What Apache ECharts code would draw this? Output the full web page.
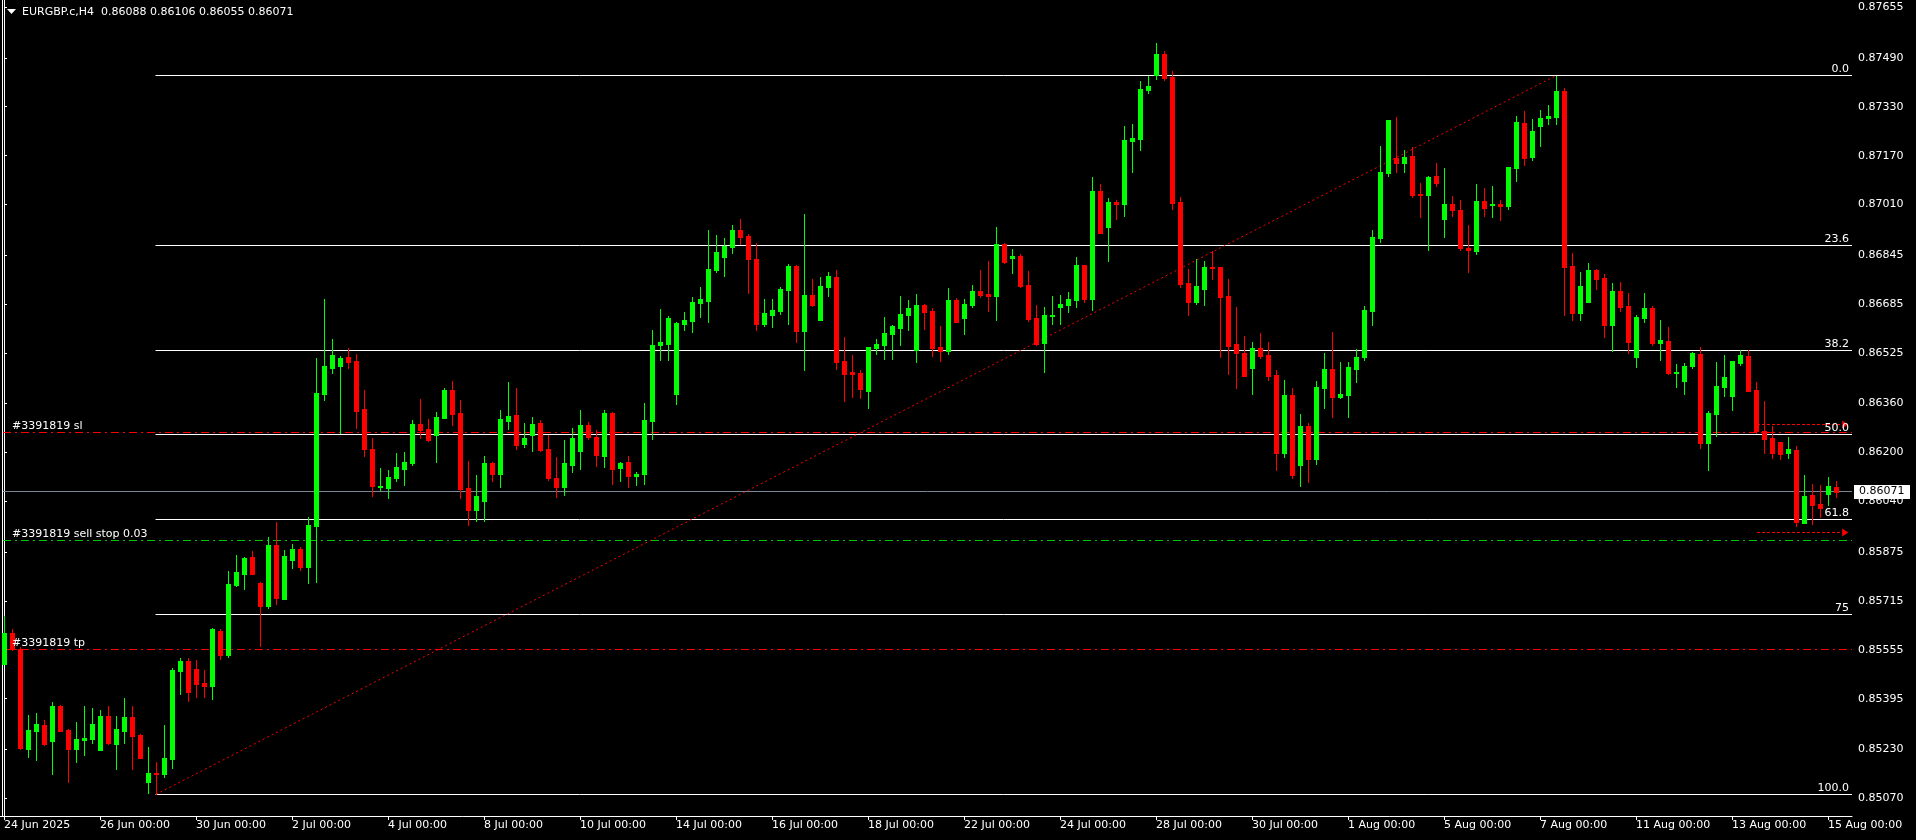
<!DOCTYPE html>
<html><head><meta charset="utf-8">
<script src="https://cdn.jsdelivr.net/npm/echarts@6/dist/echarts.min.js"></script>
<style>html,body{margin:0;padding:0;background:#000;}#c{width:1916px;height:840px;}</style>
</head><body><div id="c"></div><script>
const symbolName = 'EURGBP.c,H4';
const open = [
0.85508,0.85610,0.85557,0.85230,0.85289,0.85309,0.85257,0.85371,0.85292,0.85230,
0.85260,0.85263,0.85227,0.85338,0.85247,0.85289,0.85335,0.85276,0.85123,0.85152,
0.85149,0.85198,0.85485,0.85518,0.85492,0.85446,0.85436,0.85616,0.85538,0.85767,
0.85803,0.85858,0.85773,0.85698,0.85897,0.85721,0.85848,0.85884,0.85825,0.85959,
0.86391,0.86476,0.86483,0.86512,0.86499,0.86342,0.86211,0.86087,0.86084,0.86116,
0.86146,0.86165,0.86293,0.86277,0.86257,0.86312,0.86404,0.86329,0.86084,0.86012,
0.86041,0.86165,0.86129,0.86303,0.86322,0.86227,0.86257,0.86296,0.86211,0.86116,
0.86087,0.86159,0.86205,0.86290,0.86250,0.86188,0.86329,0.86149,0.86169,0.86123,
0.86129,0.86303,0.86551,0.86554,0.86391,0.86620,0.86630,0.86688,0.86695,0.86796,
0.86839,0.86871,0.86927,0.86907,0.86832,0.86620,0.86649,0.86662,0.86731,0.86809,
0.86597,0.86715,0.86633,0.86741,0.86773,0.86499,0.86463,0.86460,0.86401,0.86541,
0.86551,0.86587,0.86607,0.86649,0.86535,0.86682,0.86662,0.86545,0.86531,0.86698,
0.86639,0.86682,0.86728,0.86718,0.86711,0.86881,0.86836,0.86842,0.86747,0.86639,
0.86558,0.86646,0.86675,0.86682,0.86698,0.86813,0.86702,0.87055,0.86937,0.87019,
0.87012,0.87218,0.87225,0.87385,0.87434,0.87502,0.87427,0.87019,0.86754,0.86692,
0.86734,0.86806,0.86806,0.86711,0.86554,0.86525,0.86476,0.86541,0.86518,0.86453,
0.86198,0.86388,0.86159,0.86286,0.86179,0.86411,0.86473,0.86381,0.86388,0.86473,
0.86512,0.86662,0.86901,0.87113,0.87162,0.87146,0.87169,0.87045,0.87041,0.87104,
0.86963,0.87012,0.86992,0.86868,0.86858,0.87022,0.87009,0.87012,0.87006,0.87130,
0.87277,0.87166,0.87267,0.87293,0.87296,0.87381,0.86809,0.86656,0.86692,0.86796,
0.86770,0.86616,0.86728,0.86679,0.86512,0.86639,0.86672,0.86558,0.86564,0.86460,
0.86433,0.86483,0.86522,0.86231,0.86326,0.86414,0.86384,0.86492,0.86515,0.86404,
0.86270,0.86247,0.86234,0.86198,0.86208,0.85969,0.86061,0.86031,0.86064,0.86088];
const high = [
0.85665,0.85623,0.85564,0.85342,0.85348,0.85325,0.85384,0.85374,0.85296,0.85319,
0.85371,0.85364,0.85358,0.85371,0.85338,0.85397,0.85371,0.85279,0.85237,0.85188,
0.85309,0.85495,0.85528,0.85528,0.85521,0.85489,0.85626,0.85623,0.85812,0.85865,
0.85858,0.85878,0.85776,0.85923,0.85972,0.85881,0.85900,0.85891,0.85989,0.86509,
0.86702,0.86571,0.86515,0.86541,0.86522,0.86404,0.86247,0.86149,0.86143,0.86198,
0.86201,0.86306,0.86375,0.86309,0.86332,0.86411,0.86433,0.86371,0.86172,0.86126,
0.86188,0.86169,0.86339,0.86430,0.86411,0.86296,0.86316,0.86306,0.86257,0.86185,
0.86241,0.86280,0.86339,0.86299,0.86273,0.86339,0.86332,0.86169,0.86188,0.86136,
0.86362,0.86600,0.86669,0.86646,0.86626,0.86659,0.86708,0.86741,0.86927,0.86911,
0.86901,0.86943,0.86963,0.86914,0.86885,0.86702,0.86702,0.86741,0.86816,0.86813,
0.86979,0.86767,0.86773,0.86790,0.86796,0.86577,0.86518,0.86469,0.86545,0.86571,
0.86643,0.86616,0.86711,0.86698,0.86718,0.86685,0.86672,0.86613,0.86737,0.86705,
0.86702,0.86747,0.86796,0.86826,0.86937,0.86885,0.86865,0.86849,0.86793,0.86682,
0.86675,0.86711,0.86715,0.86724,0.86839,0.86813,0.87100,0.87077,0.87032,0.87025,
0.87267,0.87274,0.87414,0.87431,0.87538,0.87512,0.87447,0.87035,0.86800,0.86832,
0.86826,0.86858,0.86806,0.86767,0.86675,0.86581,0.86561,0.86590,0.86561,0.86469,
0.86437,0.86411,0.86326,0.86296,0.86433,0.86525,0.86594,0.86496,0.86496,0.86538,
0.86679,0.86927,0.87202,0.87287,0.87296,0.87189,0.87198,0.87081,0.87104,0.87146,
0.87130,0.87038,0.87025,0.86943,0.87077,0.87064,0.87071,0.87025,0.87133,0.87300,
0.87316,0.87290,0.87319,0.87336,0.87432,0.87391,0.86852,0.86790,0.86819,0.86800,
0.86783,0.86754,0.86757,0.86721,0.86649,0.86721,0.86679,0.86633,0.86610,0.86489,
0.86492,0.86528,0.86545,0.86335,0.86496,0.86518,0.86499,0.86535,0.86535,0.86430,
0.86368,0.86286,0.86234,0.86250,0.86221,0.86126,0.86097,0.86093,0.86120,0.86106];
const low = [
0.85508,0.85554,0.85230,0.85204,0.85195,0.85243,0.85149,0.85289,0.85123,0.85188,
0.85211,0.85250,0.85227,0.85247,0.85165,0.85250,0.85165,0.85201,0.85087,0.85082,
0.85139,0.85168,0.85410,0.85387,0.85400,0.85400,0.85394,0.85525,0.85531,0.85763,
0.85754,0.85803,0.85567,0.85691,0.85704,0.85721,0.85822,0.85816,0.85773,0.85776,
0.86371,0.86460,0.86263,0.86476,0.86280,0.86188,0.86058,0.86077,0.86051,0.86107,
0.86093,0.86159,0.86247,0.86237,0.86169,0.86312,0.86290,0.86051,0.85963,0.85976,
0.85976,0.86107,0.86087,0.86277,0.86211,0.86218,0.86205,0.86205,0.86110,0.86054,
0.86061,0.86136,0.86146,0.86244,0.86156,0.86152,0.86097,0.86107,0.86087,0.86093,
0.86097,0.86244,0.86502,0.86502,0.86358,0.86600,0.86594,0.86643,0.86626,0.86790,
0.86777,0.86852,0.86881,0.86721,0.86600,0.86613,0.86610,0.86652,0.86620,0.86561,
0.86469,0.86679,0.86633,0.86711,0.86473,0.86368,0.86381,0.86378,0.86345,0.86522,
0.86505,0.86505,0.86551,0.86600,0.86496,0.86603,0.86515,0.86499,0.86522,0.86626,
0.86587,0.86675,0.86708,0.86662,0.86633,0.86819,0.86787,0.86741,0.86630,0.86551,
0.86463,0.86620,0.86620,0.86659,0.86675,0.86692,0.86666,0.86917,0.86826,0.86963,
0.86973,0.87117,0.87189,0.87375,0.87421,0.87417,0.86996,0.86741,0.86649,0.86685,
0.86682,0.86767,0.86512,0.86456,0.86411,0.86450,0.86391,0.86509,0.86437,0.86143,
0.86185,0.86116,0.86090,0.86103,0.86162,0.86345,0.86316,0.86378,0.86316,0.86430,
0.86502,0.86616,0.86888,0.87104,0.87117,0.87117,0.87035,0.86970,0.86862,0.87071,
0.86904,0.86973,0.86862,0.86790,0.86849,0.86973,0.86970,0.86960,0.86996,0.87087,
0.87140,0.87156,0.87202,0.87274,0.87274,0.86649,0.86633,0.86633,0.86692,0.86734,
0.86577,0.86531,0.86662,0.86525,0.86479,0.86626,0.86551,0.86502,0.86456,0.86414,
0.86391,0.86476,0.86214,0.86143,0.86254,0.86384,0.86339,0.86486,0.86401,0.86263,
0.86198,0.86182,0.86179,0.86182,0.85959,0.85969,0.85966,0.85989,0.86028,0.86055];
const close = [
0.85610,0.85557,0.85234,0.85292,0.85312,0.85247,0.85371,0.85289,0.85230,0.85263,
0.85266,0.85312,0.85338,0.85250,0.85296,0.85335,0.85273,0.85201,0.85152,0.85149,
0.85201,0.85489,0.85518,0.85417,0.85443,0.85436,0.85623,0.85538,0.85770,0.85809,
0.85855,0.85803,0.85698,0.85897,0.85724,0.85861,0.85884,0.85825,0.85963,0.86394,
0.86483,0.86518,0.86509,0.86496,0.86335,0.86211,0.86090,0.86090,0.86120,0.86152,
0.86169,0.86293,0.86273,0.86240,0.86316,0.86404,0.86326,0.86080,0.86012,0.86058,
0.86165,0.86129,0.86309,0.86319,0.86224,0.86247,0.86293,0.86208,0.86116,0.86087,
0.86165,0.86247,0.86290,0.86250,0.86192,0.86329,0.86146,0.86165,0.86123,0.86129,
0.86306,0.86551,0.86561,0.86639,0.86623,0.86633,0.86692,0.86702,0.86800,0.86855,
0.86875,0.86927,0.86904,0.86832,0.86620,0.86656,0.86666,0.86734,0.86809,0.86597,
0.86715,0.86682,0.86744,0.86777,0.86496,0.86456,0.86456,0.86407,0.86545,0.86554,
0.86590,0.86613,0.86652,0.86672,0.86682,0.86659,0.86541,0.86531,0.86698,0.86626,
0.86685,0.86728,0.86715,0.86711,0.86881,0.86823,0.86842,0.86744,0.86636,0.86554,
0.86649,0.86649,0.86685,0.86702,0.86813,0.86702,0.87055,0.86917,0.87019,0.87012,
0.87221,0.87228,0.87388,0.87398,0.87502,0.87424,0.87015,0.86750,0.86692,0.86744,
0.86806,0.86803,0.86708,0.86548,0.86525,0.86450,0.86541,0.86515,0.86450,0.86198,
0.86388,0.86126,0.86286,0.86179,0.86414,0.86473,0.86381,0.86391,0.86479,0.86512,
0.86666,0.86904,0.87117,0.87287,0.87146,0.87166,0.87041,0.87041,0.87100,0.87081,
0.87012,0.86992,0.86868,0.86862,0.87022,0.86999,0.87012,0.87006,0.87133,0.87280,
0.87162,0.87251,0.87293,0.87300,0.87381,0.86806,0.86656,0.86744,0.86796,0.86767,
0.86616,0.86728,0.86675,0.86561,0.86643,0.86672,0.86558,0.86567,0.86460,0.86463,
0.86483,0.86525,0.86231,0.86329,0.86417,0.86447,0.86499,0.86518,0.86401,0.86270,
0.86244,0.86198,0.86195,0.86211,0.85972,0.86058,0.86028,0.86018,0.86090,0.86071];

const xTickIndex = [0,12,24,36,48,60,72,84,96,108,120,132,144,156,168,180,192,204,216,228];
const xTickLabels = ['24 Jun 2025','26 Jun 00:00','30 Jun 00:00','2 Jul 00:00','4 Jul 00:00','8 Jul 00:00',
 '10 Jul 00:00','14 Jul 00:00','16 Jul 00:00','18 Jul 00:00','22 Jul 00:00','24 Jul 00:00','28 Jul 00:00',
 '30 Jul 00:00','1 Aug 00:00','5 Aug 00:00','7 Aug 00:00','11 Aug 00:00','13 Aug 00:00','15 Aug 00:00'];
const yTickValues = [0.87655,0.87490,0.87330,0.87170,0.87010,0.86845,0.86685,0.86525,0.86360,
 0.86200,0.86040,0.85875,0.85715,0.85555,0.85395,0.85230,0.85070];

const fibHigh = 0.87432, fibLow = 0.85082;
const fibRatios = [0, 23.6, 38.2, 50, 61.8, 75, 100];
const fibLabels = ['0.0','23.6','38.2','50.0','61.8','75','100.0'];
const fibStartIndex = 18.875;
const trendStartIndex = 19, trendEndIndex = 194;
const orderPrices = [0.86266, 0.85913, 0.85556];
const orderLabels = ['#3391819 sl', '#3391819 sell stop 0.03', '#3391819 tp'];
const orderColors = ['#ff0000', '#00c800', '#ff0000'];
const arrowPrices = [0.86292, 0.85939];
const arrowStartIndex = 219.1, arrowEndIndex = 230.4;

const yMin = 0.850114, yMax = 0.876789;
const xMin = -0.5, xMax = 231;
const FONT = 'DejaVu Sans';

const chart = echarts.init(document.getElementById('c'), null, {renderer: 'canvas'});
const candleData = open.map((o, i) => [i, o, close[i], low[i], high[i]]);

function renderCandle(params, api) {
  const i = api.value(0), o = api.value(1), c = api.value(2), l = api.value(3), h = api.value(4);
  const po = api.coord([i, o]), pc = api.coord([i, c]), pl = api.coord([i, l]), ph = api.coord([i, h]);
  const x = Math.round(po[0]);
  const col = c >= o ? '#00ff00' : '#ff0000';
  const yTop = Math.round(Math.min(po[1], pc[1]));
  const yBot = Math.round(Math.max(po[1], pc[1]));
  const yh = Math.round(ph[1]), yl = Math.round(pl[1]);
  return {
    type: 'group',
    children: [
      {type: 'rect', shape: {x: x, y: yh, width: 1, height: Math.max(1, yl - yh + 1)}, style: {fill: col}},
      {type: 'rect', shape: {x: x - 2, y: yTop, width: 5, height: Math.max(1, yBot - yTop + 1)}, style: {fill: col}}
    ]
  };
}

const option = {
  backgroundColor: '#000000',
  animation: false,
  grid: {left: 0, right: 64, top: 0, bottom: 24, containLabel: false},
  xAxis: {
    type: 'value', min: xMin, max: xMax,
    splitLine: {show: false},
    axisLine: {show: true, lineStyle: {color: '#ffffff', width: 1}},
    axisTick: {show: true, customValues: xTickIndex, length: 4, lineStyle: {color: '#ffffff'}},
    axisLabel: {customValues: xTickIndex, formatter: v => xTickLabels[xTickIndex.indexOf(v)],
      color: '#ffffff', fontFamily: FONT, fontSize: 11, align: 'left', margin: 4}
  },
  yAxis: {
    type: 'value', position: 'right', min: yMin, max: yMax, scale: true,
    splitLine: {show: false},
    axisLine: {show: true, lineStyle: {color: '#ffffff', width: 1}},
    axisTick: {show: true, customValues: yTickValues, length: 3, lineStyle: {color: '#ffffff'}},
    axisLabel: {customValues: yTickValues, formatter: v => v.toFixed(5),
      color: '#ffffff', fontFamily: FONT, fontSize: 11, margin: 6}
  },
  series: [
    {
      type: 'line', z: 1, silent: true, symbol: 'none',
      data: [[trendStartIndex, fibLow], [trendEndIndex, fibHigh]],
      lineStyle: {color: '#ff0000', width: 1, type: [2, 3]}
    },
    {
      type: 'custom', z: 3, silent: true,
      renderItem: renderCandle,
      encode: {x: 0, y: [1, 2, 3, 4]},
      data: candleData
    }
  ]
};
chart.setOption(option);

const px = (x, y) => chart.convertToPixel({xAxisIndex: 0, yAxisIndex: 0}, [x, y]);
const crisp = v => Math.round(v - 0.5) + 0.5;
const right = px(xMax, yMin)[0];
const bottom = px(xMin, yMin)[1];
const els = [];
function hline(x1, x2, price, stroke, dash, z) {
  const y = crisp(px(0, price)[1]);
  els.push({type: 'line', z: z || 1, silent: true, shape: {x1: x1, y1: y, x2: x2, y2: y},
    style: {stroke: stroke, lineWidth: 1, lineDash: dash || null}});
  return y;
}
// left border
els.push({type: 'line', z: 1, silent: true, shape: {x1: 2.5, y1: 0, x2: 2.5, y2: bottom}, style: {stroke: '#ffffff', lineWidth: 1}});
// current price line
const lastIdx = close.length - 1;
const curY = hline(3, right, close[lastIdx], '#778899', null, 1);
// fib lines
const fibX = px(fibStartIndex, fibLow)[0];
fibRatios.forEach((r, k) => {
  const p = fibHigh - (fibHigh - fibLow) * r / 100;
  const y = hline(Math.round(fibX) + 0.5, right, p, '#ffffff', null, 1);
  els.push({type: 'text', z: 5, silent: true, x: right - 3, y: y - 1,
    style: {text: fibLabels[k], fill: '#ffffff', font: '11px "' + FONT + '"', align: 'right', verticalAlign: 'bottom'}});
});
// order lines
orderPrices.forEach((p, k) => {
  const y = hline(3, right, p, orderColors[k], [8, 4, 2, 4], 1);
  els.push({type: 'text', z: 5, silent: true, x: 12, y: y - 1,
    style: {text: orderLabels[k], fill: '#ffffff', font: '11px "' + FONT + '"', align: 'left', verticalAlign: 'bottom'}});
});
// arrow markers
arrowPrices.forEach(p => {
  const x1 = px(arrowStartIndex, p)[0], x2 = px(arrowEndIndex, p)[0];
  const y = hline(Math.round(x1), x2 - 5, p, '#ff0000', [3, 2], 4);
  els.push({type: 'polygon', z: 4, silent: true, shape: {points: [[x2 - 5, y - 4], [x2 + 1, y], [x2 - 5, y + 4]]},
    style: {fill: '#ff0000'}});
});
// current price tag
els.push({type: 'rect', z: 100, silent: true, shape: {x: right + 2, y: Math.round(curY) - 7, width: 56, height: 14}, style: {fill: '#ffffff'}});
els.push({type: 'text', z: 101, silent: true, x: right + 7, y: curY,
  style: {text: close[lastIdx].toFixed(5), fill: '#000000', font: '11px "' + FONT + '"', align: 'left', verticalAlign: 'middle'}});
// title
els.push({type: 'polygon', z: 100, silent: true, shape: {points: [[7, 9], [16, 9], [11.5, 14]]}, style: {fill: '#ffffff'}});
els.push({type: 'text', z: 100, silent: true, x: 22, y: 12,
  style: {text: symbolName + '  ' + [open[lastIdx], high[lastIdx], low[lastIdx], close[lastIdx]].map(v => v.toFixed(5)).join(' '),
    fill: '#ffffff', font: '11px "' + FONT + '"', align: 'left', verticalAlign: 'middle'}});
chart.setOption({graphic: {elements: els}});
</script></body></html>
